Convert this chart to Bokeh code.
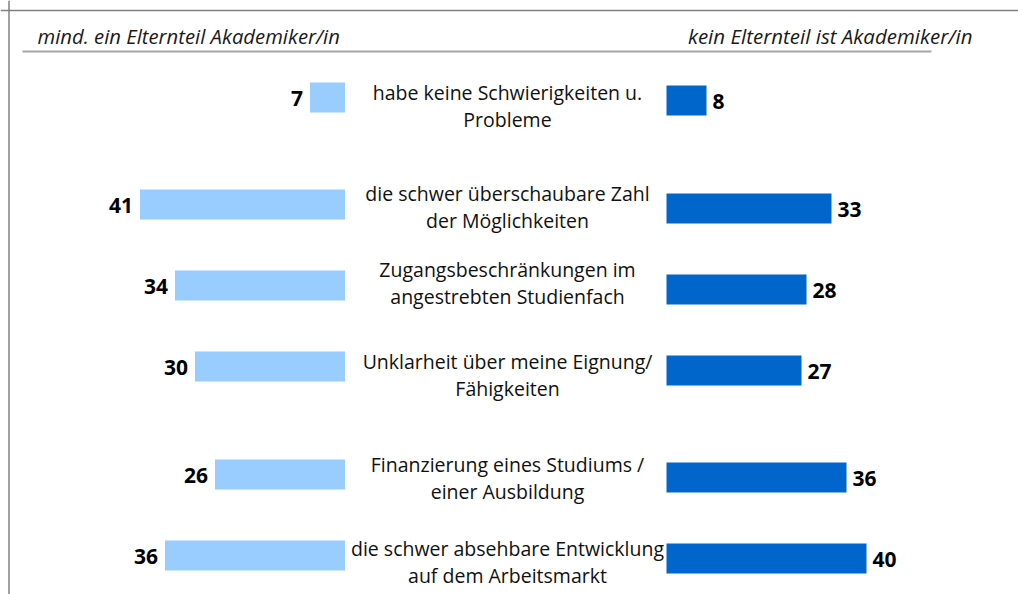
from bokeh.plotting import figure
from bokeh.models import Range1d, ColumnDataSource, Span
from bokeh.core.properties import value
from bokeh.embed import file_html
from bokeh.resources import INLINE

# ---- data ----
categories = [
    "habe keine Schwierigkeiten u.\nProbleme",
    "die schwer überschaubare Zahl\nder Möglichkeiten",
    "Zugangsbeschränkungen im\nangestrebten Studienfach",
    "Unklarheit über meine Eignung/\nFähigkeiten",
    "Finanzierung eines Studiums /\neiner Ausbildung",
    "die schwer absehbare Entwicklung\nauf dem Arbeitsmarkt",
]
akademiker = [7, 41, 34, 30, 26, 36]
kein_akademiker = [8, 33, 28, 27, 36, 40]
series_names = ["mind. ein Elternteil Akademiker/in", "kein Elternteil ist Akademiker/in"]

# ---- layout (picture pixels) ----
row_y_left = [97, 204, 285, 366, 474, 555]
row_y_right = [100, 208, 289, 370, 477, 558]
label_y = [105, 206, 282, 374, 477, 561.5]

W, H = 1018, 594
PX = 5.0            # pixels per percentage point
XC = 505.25         # picture x of the centre
GAP = (666 - XC) / PX


def dx(px):
    return (px - XC) / PX


FONT = "Open Sans"
LIGHT = "#99CCFF"
DARK = "#0066CC"

p = figure(width=W, height=H, output_backend="svg", toolbar_location=None,
           x_range=Range1d(dx(0), dx(W)), y_range=Range1d(H, 0),
           min_border=0, outline_line_color=None, background_fill_color="white")
p.xaxis.visible = False
p.yaxis.visible = False
p.xgrid.visible = False
p.ygrid.visible = False

left_src = ColumnDataSource(dict(
    y=row_y_left, v=akademiker,
    left=[-(GAP + v) for v in akademiker], right=[-GAP] * len(akademiker),
    lab=[str(v) for v in akademiker]))
right_src = ColumnDataSource(dict(
    y=row_y_right, v=kein_akademiker,
    left=[GAP] * len(kein_akademiker), right=[GAP + v for v in kein_akademiker],
    lab=[str(v) for v in kein_akademiker]))

p.hbar(y="y", left="left", right="right", height=30, source=left_src,
       fill_color=LIGHT, line_color=None)
p.hbar(y="y", left="left", right="right", height=30, source=right_src,
       fill_color=DARK, line_color=None)

p.text(x="left", y="y", text="lab", source=left_src, text_align="right",
       text_baseline="middle", x_offset=-7, y_offset=1,
       text_font=value(FONT), text_font_style="bold", text_font_size="21px",
       text_color="black")
p.text(x="right", y="y", text="lab", source=right_src, text_align="left",
       text_baseline="middle", x_offset=6, y_offset=1,
       text_font=value(FONT), text_font_style="bold", text_font_size="21px",
       text_color="black")

cat_src = ColumnDataSource(dict(x=[dx(507)] * len(categories), y=label_y, t=categories))
p.text(x="x", y="y", text="t", source=cat_src, text_align="center",
       text_baseline="middle", text_font=value(FONT), text_font_size="19.5px",
       text_line_height=1.0, text_color="#111111")

# header
p.text(x=[dx(37)], y=[35], text=[series_names[0]], text_align="left",
       text_baseline="middle", text_font=value(FONT), text_font_style="italic",
       text_font_size="20.3px", text_color="#1a1a1a")
p.text(x=[dx(972)], y=[35], text=[series_names[1]], text_align="right",
       text_baseline="middle", text_font=value(FONT), text_font_style="italic",
       text_font_size="20.5px", text_color="#1a1a1a")
p.segment(x0=[dx(22)], y0=[51], x1=[dx(931)], y1=[51], line_color="#a6a6a6", line_width=2)

# frame remnants
p.add_layout(Span(location=10, dimension="width", line_color="#808080", line_width=1.5))
p.add_layout(Span(location=dx(8.5), dimension="height", line_color="#808080", line_width=1.5))

open("out.html", "w").write(file_html(p, INLINE))
